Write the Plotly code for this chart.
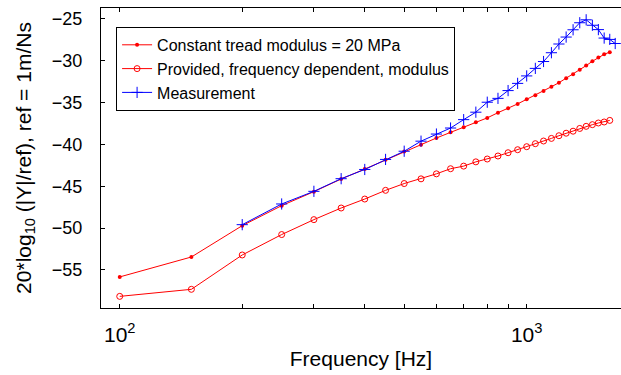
import plotly.graph_objects as go

# Frequencies [Hz]
freq_model = [100, 150, 200, 250, 300, 350, 400, 450, 500, 550, 600, 650, 700, 750, 800,
              850, 900, 950, 1000, 1050, 1100, 1150, 1200, 1250, 1300, 1350, 1400, 1450,
              1500, 1550, 1600]
freq_meas = [200, 250, 300, 350, 400, 450, 500, 550, 600, 650, 700, 750, 800, 850, 900,
             950, 1000, 1050, 1100, 1150, 1200, 1250, 1300, 1350, 1400, 1450, 1500, 1550,
             1600, 1650]

const_modulus = [-55.83, -53.45, -49.71, -47.32, -45.65, -44.14, -42.95, -41.85, -40.84,
                 -40.04, -39.24, -38.57, -37.95, -37.37, -36.84, -36.22, -35.70, -35.17,
                 -34.62, -34.13, -33.64, -33.12, -32.64, -32.12, -31.62, -31.10, -30.60,
                 -30.08, -29.62, -29.25, -28.99]
freq_dep_modulus = [-58.15, -57.31, -53.21, -50.77, -48.99, -47.60, -46.53, -45.49, -44.68,
                    -44.12, -43.52, -42.91, -42.60, -42.09, -41.75, -41.39, -41.00, -40.64,
                    -40.28, -39.92, -39.60, -39.29, -38.97, -38.67, -38.43, -38.10, -37.85,
                    -37.65, -37.45, -37.33, -37.14]
measurement = [-49.59, -47.12, -45.61, -44.10, -43.00, -41.80, -40.82, -39.62, -38.77,
               -38.05, -37.05, -36.16, -34.97, -34.51, -33.58, -32.72, -31.83, -30.93,
               -30.11, -29.06, -28.02, -27.19, -26.32, -25.48, -25.13, -25.78, -26.30,
               -27.31, -27.47, -27.96]

names = ["Constant tread modulus = 20 MPa",
         "Provided, frequency dependent, modulus",
         "Measurement"]

x_tickvals = [100, 200, 300, 400, 500, 600, 700, 800, 900, 1000]
x_ticktext = ["10<sup>2</sup>", "", "", "", "", "", "", "", "", "10<sup>3</sup>"]
y_tickvals = [-55, -50, -45, -40, -35, -30, -25]

fig = go.Figure()
fig.add_trace(go.Scatter(
    x=freq_model, y=const_modulus, name=names[0], mode="lines+markers",
    line=dict(color="#ff0000", width=1),
    marker=dict(symbol="circle", size=4, color="#ff0000")))
fig.add_trace(go.Scatter(
    x=freq_model, y=freq_dep_modulus, name=names[1], mode="lines+markers",
    line=dict(color="#ff0000", width=1),
    marker=dict(symbol="circle-open", size=6, color="#ff0000", line=dict(width=1))))
fig.add_trace(go.Scatter(
    x=freq_meas, y=measurement, name=names[2], mode="lines+markers",
    line=dict(color="#0000ff", width=1),
    marker=dict(symbol="cross-thin-open", size=8, color="#0000ff", line=dict(width=1, color="#0000ff"))))

font_family = "Liberation Sans, Arial, sans-serif"

fig.update_layout(
    width=621, height=375,
    margin=dict(l=101, r=0, t=8, b=67),
    paper_bgcolor="white", plot_bgcolor="white",
    font=dict(family=font_family, color="black"),
    showlegend=True,
    legend=dict(
        x=0.029, y=0.937, xanchor="left", yanchor="top",
        bgcolor="white", bordercolor="black", borderwidth=1,
        font=dict(size=16, family=font_family, color="black"),
        tracegroupgap=0, itemwidth=30,
    ),
    xaxis=dict(
        type="log",
        range=[1.954, 3.2317],
        tickvals=x_tickvals, ticktext=x_ticktext,
        ticks="inside", ticklen=4, tickcolor="black",
        showline=True, linecolor="black", linewidth=1, mirror="ticks",
        showgrid=False, zeroline=False,
        tickfont=dict(size=21),
        ticklabelstandoff=8,
        title=dict(text="Frequency [Hz]", font=dict(size=21), standoff=6),
    ),
    yaxis=dict(
        range=[-59.54, -23.72],
        tickvals=y_tickvals,
        ticks="inside", ticklen=4, tickcolor="black",
        showline=True, linecolor="black", linewidth=1,
        showgrid=False, zeroline=False,
        tickfont=dict(size=18),
        ticklabelstandoff=14,
        title=dict(text="20*log<sub>10</sub> (|Y|/ref), ref = 1m/Ns", font=dict(size=21), standoff=14),
    ),
)

fig.write_html("out.html")
